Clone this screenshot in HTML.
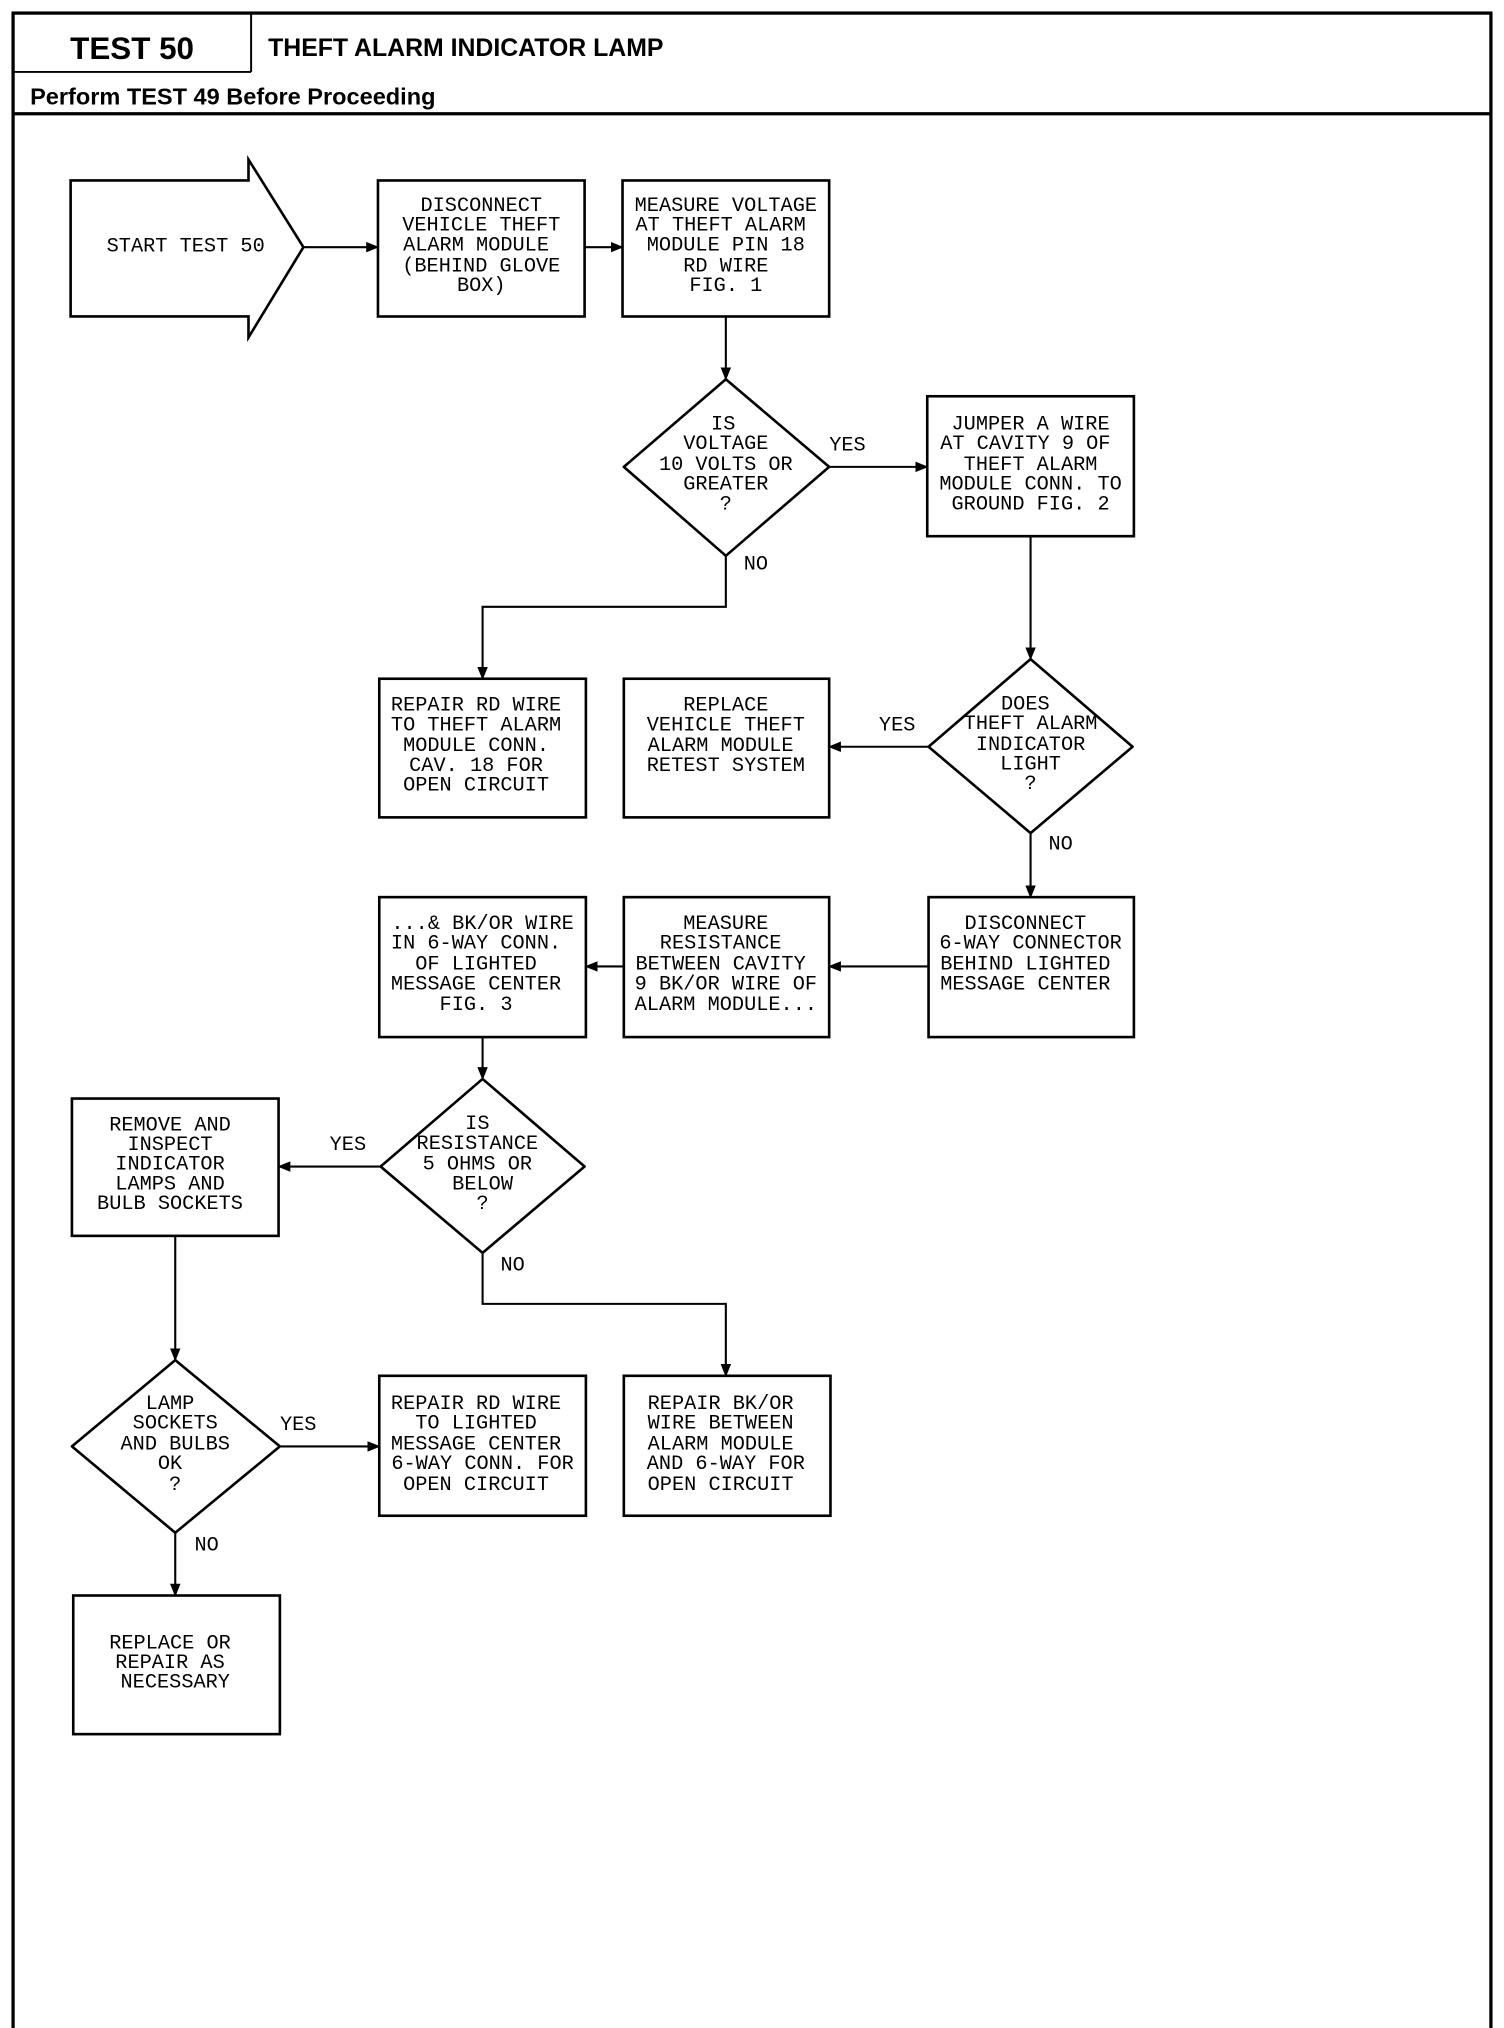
<!DOCTYPE html>
<html><head><meta charset="utf-8"><style>
html,body{margin:0;padding:0;background:#fff;}
svg{display:block;}
.t{font-family:"Liberation Mono",monospace;font-size:15.5px;fill:#000;}
.h{font-family:"Liberation Sans",sans-serif;font-weight:bold;fill:#000;}
</style></head><body>
<svg width="1504" height="2028" viewBox="0 0 1150 1550.7" preserveAspectRatio="none" xmlns="http://www.w3.org/2000/svg">
<defs><marker id="a" markerWidth="10" markerHeight="8" refX="9" refY="4" orient="auto" markerUnits="userSpaceOnUse"><path d="M0,0 L10,4 L0,8 z" fill="#000"/></marker></defs>
<g fill="none" stroke="#000">
<rect x="10" y="10" width="1130" height="1545" stroke-width="2.5"/>
<line x1="192" y1="10" x2="192" y2="55" stroke-width="1.5"/>
<line x1="10" y1="55" x2="192" y2="55" stroke-width="1.5"/>
<line x1="10" y1="87" x2="1140" y2="87" stroke-width="2.5"/>
<g stroke-width="2">
<path d="M54,138 H190 V122 L232,189 L190,258 V242 H54 Z"/>
<rect x="289" y="138" width="158" height="104"/>
<rect x="476" y="138" width="158" height="104"/>
<rect x="709" y="303" width="158" height="107"/>
<rect x="290" y="519" width="158" height="106"/>
<rect x="477" y="519" width="157" height="106"/>
<rect x="290" y="686" width="158" height="107"/>
<rect x="477" y="686" width="157" height="107"/>
<rect x="710" y="686" width="157" height="107"/>
<rect x="55" y="840" width="158" height="105"/>
<rect x="290" y="1052" width="158" height="107"/>
<rect x="477" y="1052" width="158" height="107"/>
<rect x="56" y="1220" width="158" height="106"/>
<path d="M555,290 L634,357 L555,425 L477,357 Z" stroke-linejoin="round"/>
<path d="M788,504 L866,571 L788,637 L710,571 Z" stroke-linejoin="round"/>
<path d="M369,825 L447,892 L369,958 L291,892 Z" stroke-linejoin="round"/>
<path d="M134,1040 L214,1106 L134,1172 L55,1106 Z" stroke-linejoin="round"/>
</g>
<g stroke-width="1.6" marker-end="url(#a)">
<line x1="232" y1="189" x2="289" y2="189"/>
<line x1="447" y1="189" x2="476" y2="189"/>
<line x1="555" y1="242" x2="555" y2="290"/>
<line x1="634" y1="357" x2="709" y2="357"/>
<path d="M555,425 V464 H369 V519"/>
<line x1="788" y1="410" x2="788" y2="504"/>
<line x1="710" y1="571" x2="634" y2="571"/>
<line x1="788" y1="637" x2="788" y2="686"/>
<line x1="710" y1="739" x2="634" y2="739"/>
<line x1="477" y1="739" x2="448" y2="739"/>
<line x1="369" y1="793" x2="369" y2="825"/>
<line x1="291" y1="892" x2="213" y2="892"/>
<path d="M369,958 V997 H555 V1052"/>
<line x1="134" y1="945" x2="134" y2="1040"/>
<line x1="214" y1="1106" x2="290" y2="1106"/>
<line x1="134" y1="1172" x2="134" y2="1220"/>
</g>
</g>
<text class="h" x="101" y="45" font-size="24" text-anchor="middle">TEST 50</text>
<text class="h" x="205" y="43" font-size="19">THEFT ALARM INDICATOR LAMP</text>
<text class="h" x="23" y="80" font-size="18">Perform TEST 49 Before Proceeding</text>
<g class="t" text-anchor="middle" dominant-baseline="central">
<text x="142" y="189">START TEST 50</text>
<text x="368" y="158">DISCONNECT</text><text x="368" y="173">VEHICLE THEFT</text><text x="364" y="188">ALARM MODULE</text><text x="368" y="204">(BEHIND GLOVE</text><text x="368" y="219">BOX)</text>
<text x="555" y="158">MEASURE VOLTAGE</text><text x="551" y="173">AT THEFT ALARM</text><text x="555" y="188">MODULE PIN 18</text><text x="555" y="204">RD WIRE</text><text x="555" y="219">FIG. 1</text>
<text x="553" y="325">IS</text><text x="555" y="340">VOLTAGE</text><text x="555" y="356">10 VOLTS OR</text><text x="555" y="371">GREATER</text><text x="555" y="386">?</text>
<text x="648" y="341">YES</text>
<text x="578" y="432">NO</text>
<text x="788" y="325">JUMPER A WIRE</text><text x="784" y="340">AT CAVITY 9 OF</text><text x="788" y="356">THEFT ALARM</text><text x="788" y="371">MODULE CONN. TO</text><text x="788" y="386">GROUND FIG. 2</text>
<text x="364" y="540">REPAIR RD WIRE</text><text x="364" y="555">TO THEFT ALARM</text><text x="364" y="571">MODULE CONN.</text><text x="364" y="586">CAV. 18 FOR</text><text x="364" y="601">OPEN CIRCUIT</text>
<text x="555" y="540">REPLACE</text><text x="555" y="555">VEHICLE THEFT</text><text x="551" y="571">ALARM MODULE</text><text x="555" y="586">RETEST SYSTEM</text>
<text x="784" y="539">DOES</text><text x="788" y="554">THEFT ALARM</text><text x="788" y="570">INDICATOR</text><text x="788" y="585">LIGHT</text><text x="788" y="600">?</text>
<text x="686" y="555">YES</text>
<text x="811" y="646">NO</text>
<text x="369" y="707">...&amp; BK/OR WIRE</text><text x="364" y="722">IN 6-WAY CONN.</text><text x="364" y="738">OF LIGHTED</text><text x="364" y="753">MESSAGE CENTER</text><text x="364" y="769">FIG. 3</text>
<text x="555" y="707">MEASURE</text><text x="551" y="722">RESISTANCE</text><text x="551" y="738">BETWEEN CAVITY</text><text x="555" y="753">9 BK/OR WIRE OF</text><text x="555" y="769">ALARM MODULE...</text>
<text x="784" y="707">DISCONNECT</text><text x="788" y="722">6-WAY CONNECTOR</text><text x="784" y="738">BEHIND LIGHTED</text><text x="784" y="753">MESSAGE CENTER</text>
<text x="365" y="860">IS</text><text x="365" y="875">RESISTANCE</text><text x="365" y="891">5 OHMS OR</text><text x="369" y="906">BELOW</text><text x="369" y="921">?</text>
<text x="266" y="876">YES</text>
<text x="392" y="968">NO</text>
<text x="130" y="861">REMOVE AND</text><text x="130" y="876">INSPECT</text><text x="130" y="891">INDICATOR</text><text x="130" y="906">LAMPS AND</text><text x="130" y="921">BULB SOCKETS</text>
<text x="130" y="1074">LAMP</text><text x="134" y="1089">SOCKETS</text><text x="134" y="1105">AND BULBS</text><text x="130" y="1120">OK</text><text x="134" y="1136">?</text>
<text x="228" y="1090">YES</text>
<text x="158" y="1182">NO</text>
<text x="364" y="1074">REPAIR RD WIRE</text><text x="364" y="1089">TO LIGHTED</text><text x="364" y="1105">MESSAGE CENTER</text><text x="369" y="1120">6-WAY CONN. FOR</text><text x="364" y="1136">OPEN CIRCUIT</text>
<text x="551" y="1074">REPAIR BK/OR</text><text x="551" y="1089">WIRE BETWEEN</text><text x="551" y="1105">ALARM MODULE</text><text x="555" y="1120">AND 6-WAY FOR</text><text x="551" y="1136">OPEN CIRCUIT</text>
<text x="130" y="1257">REPLACE OR</text><text x="130" y="1272">REPAIR AS</text><text x="134" y="1287">NECESSARY</text>
</g>
</svg>
</body></html>
